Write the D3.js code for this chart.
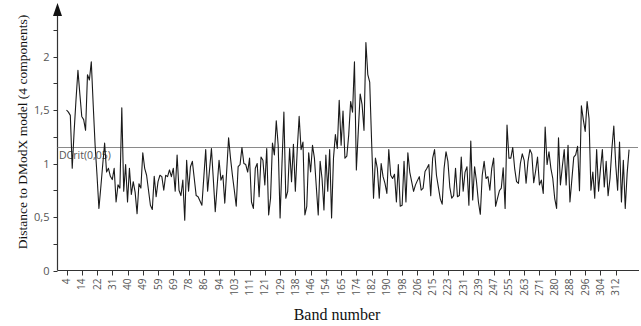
<!DOCTYPE html>
<html><head><meta charset="utf-8">
<script src="https://cdn.jsdelivr.net/npm/d3@7"></script>
<style>html,body{margin:0;padding:0;background:#fff;}svg{display:block;}</style>
</head><body>
<script>
// Band tick labels (one label every 8 bands)
const tickLabels = [4,14,22,31,40,49,59,69,78,86,94,103,111,121,129,138,146,154,165,174,182,190,198,206,215,223,231,239,247,255,263,271,280,288,296,304,312];
const labelStep = 8;
// DModX distance for each band, in band order
const dmodx = [
1.50,1.48,1.45,0.955,1.30,1.60,1.87,1.65,1.44,1.41,1.31,1.83,1.78,1.95,1.55,1.17,0.89,0.58,0.78,0.99,
1.19,0.92,0.955,0.88,0.85,0.955,0.64,0.80,0.77,1.52,0.74,0.99,0.64,0.955,0.71,0.83,0.73,0.53,0.81,0.77,
1.10,0.955,0.89,0.75,0.61,0.57,0.88,0.69,0.83,0.89,0.877,0.75,0.89,0.877,0.94,0.877,0.955,0.74,1.08,0.75,
0.70,0.845,0.47,1.03,0.74,0.97,1.02,0.86,0.70,0.69,0.65,0.61,0.87,1.13,0.74,0.94,1.14,0.85,0.55,0.79,
1.03,0.845,0.89,0.63,0.93,1.24,1.05,0.89,0.75,0.60,0.97,0.99,1.15,1.00,0.99,0.92,1.05,0.64,0.58,0.955,
1.00,0.69,1.06,1.03,0.80,1.14,0.52,0.675,1.19,1.08,1.40,1.17,0.49,1.00,1.48,0.675,0.74,1.14,0.83,1.18,
0.74,1.13,1.44,1.13,1.20,0.52,0.60,1.10,0.92,1.17,1.05,0.78,0.52,1.02,0.86,0.565,1.08,0.74,1.13,0.49,
1.05,1.27,1.14,1.59,1.17,1.49,1.05,1.07,1.27,1.58,1.48,1.95,0.94,1.30,1.65,1.55,1.31,2.13,1.83,1.76,
1.20,0.675,1.05,0.955,0.675,1.00,0.877,0.815,0.72,1.13,0.89,0.86,0.90,0.64,0.99,0.60,0.61,1.02,0.64,1.10,
0.92,0.83,0.74,0.80,0.84,0.877,0.75,0.77,0.925,0.955,0.99,0.70,1.05,1.13,0.89,0.78,0.67,0.62,0.955,1.11,
1.02,0.78,0.675,0.70,0.955,0.69,0.70,1.06,0.74,0.92,0.97,0.61,1.21,0.66,0.97,0.83,0.64,0.525,0.89,1.02,
0.86,0.877,0.75,0.955,1.05,0.60,0.675,0.745,0.77,0.96,0.58,1.36,1.05,1.05,1.15,0.955,0.83,0.815,1.00,1.09,
1.03,0.815,1.02,1.13,1.09,0.82,0.93,1.06,0.80,0.845,0.72,1.34,0.99,1.11,0.955,0.86,0.675,0.58,1.24,0.80,
0.97,1.13,0.80,1.17,0.64,0.85,1.06,1.08,1.16,0.745,1.54,1.41,1.30,1.58,1.42,0.75,0.92,0.675,1.13,0.74,
0.95,1.13,0.78,1.02,0.70,0.86,1.14,1.35,0.99,0.75,1.20,0.64,1.03,0.58,0.91,1.13
];
const yMajor = [0, 0.5, 1, 1.5, 2];
const yMinor = [0.25, 0.75, 1.25, 1.75, 2.25];
const dcrit = 1.157;
const dcritLabel = "DCrit(0,05)";
const xTitle = "Band number";
const yTitle = "Distance to DModX model (4 components)";

const W = 641, H = 326;
const svg = d3.select("body").append("svg").attr("width", W).attr("height", H);

const x = d3.scaleLinear().domain([0, dmodx.length - 1]).range([66.5, 66.5 + (dmodx.length - 1) * 1.907]);
const y = d3.scaleLinear().domain([0, 2]).range([270.5, 56.5]);
const axisX = 57.5, axisY = y(0);
const fmt = v => String(v).replace(".", ",");
const tickFont = "'Open Sans', 'Noto Sans', sans-serif";

// y axis
const yAxis = svg.append("g").attr("transform", `translate(${axisX},0)`);
yAxis.append("line").attr("x1", 0).attr("x2", 0).attr("y1", axisY).attr("y2", 12).attr("stroke", "#333").attr("stroke-width", 1.2);
yAxis.append("path").attr("d", "M0,3 L-4.5,16 L4.5,16 Z").attr("fill", "#111");
yAxis.selectAll("line.t").data(yMajor.concat(yMinor)).join("line").attr("class", "t")
  .attr("x1", -4).attr("x2", 0).attr("y1", d => Math.round(y(d)) + 0.5).attr("y2", d => Math.round(y(d)) + 0.5)
  .attr("stroke", "#333").attr("stroke-width", 1);
yAxis.selectAll("text").data(yMajor).join("text")
  .attr("x", -8).attr("y", d => y(d) + 4).attr("text-anchor", "end")
  .attr("font-family", tickFont).attr("font-size", 11).attr("fill", "#555").text(fmt);

// x axis
const xAxis = svg.append("g");
xAxis.append("line").attr("x1", axisX).attr("x2", 639).attr("y1", axisY).attr("y2", axisY).attr("stroke", "#333").attr("stroke-width", 1.2);
const ticks = tickLabels.map((lab, i) => ({lab, idx: i * labelStep}));
xAxis.selectAll("line.t").data(ticks).join("line").attr("class", "t")
  .attr("x1", d => Math.round(x(d.idx)) + 0.5).attr("x2", d => Math.round(x(d.idx)) + 0.5)
  .attr("y1", axisY).attr("y2", axisY + 5).attr("stroke", "#333");
xAxis.selectAll("text").data(ticks).join("text")
  .attr("transform", d => `translate(${x(d.idx) + 3.5},${axisY + 8}) rotate(-90)`)
  .attr("text-anchor", "end").attr("font-family", tickFont).attr("font-size", 10).attr("fill", "#555")
  .text(d => d.lab);

// critical line
svg.append("line").attr("x1", axisX).attr("x2", 638).attr("y1", Math.round(y(dcrit)) + 0.5).attr("y2", Math.round(y(dcrit)) + 0.5)
  .attr("stroke", "#8a8a8a").attr("stroke-width", 1.2);
svg.append("text").attr("x", 59).attr("y", y(dcrit) + 12).attr("font-family", tickFont).attr("font-size", 10.5)
  .attr("fill", "#555").text(dcritLabel);

// series
const line = d3.line().x((d, i) => x(i)).y(d => y(d));
svg.append("path").datum(dmodx).attr("d", line).attr("fill", "none").attr("stroke", "#1a1a1a").attr("stroke-width", 1.1).attr("stroke-linejoin", "round");

// titles
svg.append("text").attr("x", 337).attr("y", 320).attr("text-anchor", "middle")
  .attr("font-family", "'Liberation Serif', 'Times New Roman', serif").attr("font-size", 16).attr("fill", "#111").text(xTitle);
svg.append("text").attr("transform", `translate(27,132) rotate(-90)`).attr("text-anchor", "middle")
  .attr("font-family", "'Liberation Serif', 'Times New Roman', serif").attr("font-size", 13.5).attr("fill", "#111").text(yTitle);
</script>
</body></html>
